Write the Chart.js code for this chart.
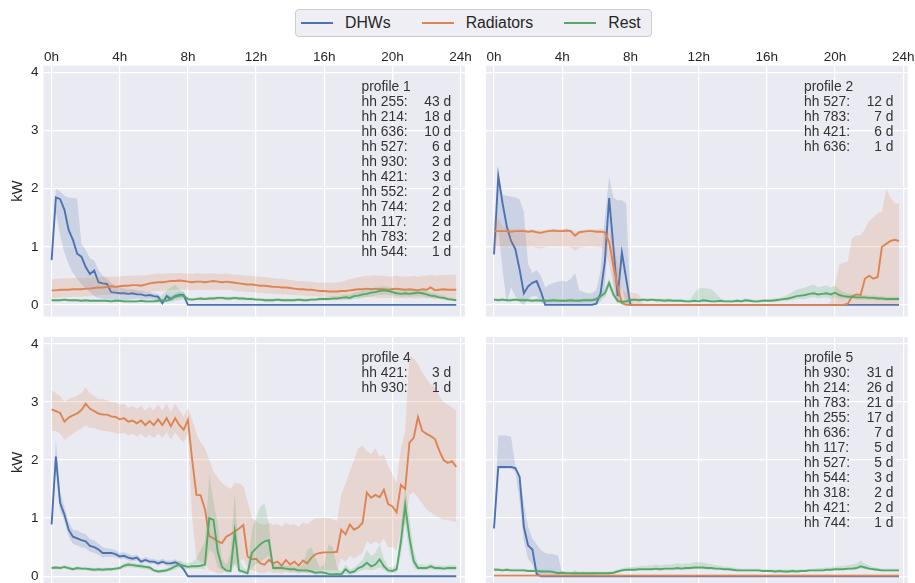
<!DOCTYPE html>
<html>
<head>
<meta charset="utf-8">
<script src="https://cdn.jsdelivr.net/npm/chart.js@4.4.0/dist/chart.umd.min.js"></script>
<style>
  html, body { margin: 0; padding: 0; background: #fff; }
  body { position: relative; width: 915px; height: 583px; overflow: hidden; font-family: "Liberation Sans", Arial, sans-serif; }
  canvas { position: absolute; }
  #legend {
    position: absolute; left: 295px; top: 9px; height: 28px; box-sizing: border-box;
    padding: 0 10px 0 5px; display: flex; align-items: center;
    border: 1px solid #cccccc; border-radius: 4px; background: #eeeef4;
    font-size: 15.8px; color: #262626;
  }
  .item { display: flex; align-items: center; margin-right: 31px; }
  .item:last-child { margin-right: 0; }
  .swatch { width: 32px; height: 0; border-top: 2px solid; margin-right: 12px; }
</style>
</head>
<body>
<div id="legend"></div>
<canvas id="p1" width="478" height="285" style="left:0;top:40px"></canvas>
<canvas id="p2" width="445" height="285" style="left:470px;top:40px"></canvas>
<canvas id="p4" width="478" height="280" style="left:0;top:320px"></canvas>
<canvas id="p5" width="445" height="280" style="left:470px;top:320px"></canvas>
<script>
const hours = [0,0.25,0.5,0.75,1,1.25,1.5,1.75,2,2.25,2.5,2.75,3,3.25,3.5,3.75,4,4.25,4.5,4.75,5,5.25,5.5,5.75,
  6,6.25,6.5,6.75,7,7.25,7.5,7.75,8,8.25,8.5,8.75,9,9.25,9.5,9.75,10,10.25,10.5,10.75,11,11.25,11.5,11.75,
  12,12.25,12.5,12.75,13,13.25,13.5,13.75,14,14.25,14.5,14.75,15,15.25,15.5,15.75,16,16.25,16.5,16.75,17,17.25,17.5,17.75,
  18,18.25,18.5,18.75,19,19.25,19.5,19.75,20,20.25,20.5,20.75,21,21.25,21.5,21.75,22,22.25,22.5,22.75,23,23.25,23.5,23.75];
const hourTicks = [0, 4, 8, 12, 16, 20, 24];
const hourTickLabels = ['0h', '4h', '8h', '12h', '16h', '20h', '24h'];
const kwTicks = [0, 1, 2, 3, 4];
const seriesNames = ['DHWs', 'Radiators', 'Rest'];

// profile 1
const p1Dhw = [
  0.77,1.85,1.82,1.64,1.29,1.12,0.88,0.83, 0.65,0.53,0.59,0.39,0.37,0.36,0.22,0.21,
  0.20,0.20,0.19,0.20,0.18,0.18,0.16,0.17, 0.15,0.14,0.03,0.15,0.10,0.15,0.17,0.17,
  0,0,0,0,0,0,0,0, 0,0,0,0,0,0,0,0, 0,0,0,0,0,0,0,0, 0,0,0,0,0,0,0,0,
  0,0,0,0,0,0,0,0, 0,0,0,0,0,0,0,0, 0,0,0,0,0,0,0,0, 0,0,0,0,0,0,0,0];
const p1DhwLo = [
  0.72,1.6,1.2,0.9,0.7,0.55,0.45,0.35, 0.28,0.22,0.15,0.12,0.1,0.1,0.08,0.08,
  0.08,0.08,0.09,0.1,0.1,0.1,0.09,0.1, 0.09,0.09,0,0.1,0.06,0.1,0.12,0.12,
  0,0,0,0,0,0,0,0, 0,0,0,0,0,0,0,0, 0,0,0,0,0,0,0,0, 0,0,0,0,0,0,0,0,
  0,0,0,0,0,0,0,0, 0,0,0,0,0,0,0,0, 0,0,0,0,0,0,0,0, 0,0,0,0,0,0,0,0];
const p1DhwHi = [
  0.82,2.0,1.95,1.88,1.85,1.84,1.83,1.05, 0.95,0.8,0.77,0.6,0.5,0.45,0.38,0.33,
  0.3,0.28,0.27,0.27,0.25,0.24,0.22,0.22, 0.2,0.19,0.08,0.2,0.15,0.2,0.22,0.22,
  0,0,0,0,0,0,0,0, 0,0,0,0,0,0,0,0, 0,0,0,0,0,0,0,0, 0,0,0,0,0,0,0,0,
  0,0,0,0,0,0,0,0, 0,0,0,0,0,0,0,0, 0,0,0,0,0,0,0,0, 0,0,0,0,0,0,0,0];
const p1Rad = [
  0.25,0.25,0.26,0.26,0.26,0.27,0.27,0.27, 0.28,0.28,0.29,0.3,0.3,0.31,0.32,0.31,
  0.32,0.33,0.33,0.34,0.34,0.33,0.35,0.37, 0.38,0.39,0.39,0.4,0.41,0.41,0.42,0.41,
  0.4,0.39,0.4,0.4,0.39,0.4,0.41,0.4, 0.39,0.4,0.39,0.38,0.37,0.36,0.35,0.35,
  0.34,0.33,0.33,0.32,0.31,0.31,0.3,0.3, 0.29,0.28,0.27,0.27,0.26,0.26,0.25,0.24,
  0.24,0.23,0.23,0.23,0.24,0.24,0.25,0.26, 0.27,0.27,0.28,0.27,0.28,0.27,0.27,0.26,
  0.27,0.28,0.27,0.26,0.27,0.26,0.25,0.27, 0.26,0.3,0.25,0.26,0.27,0.26,0.26,0.26];
const p1RadLo = [
  0.12,0.12,0.13,0.13,0.13,0.14,0.14,0.14, 0.15,0.15,0.16,0.16,0.17,0.17,0.18,0.18,
  0.18,0.19,0.19,0.2,0.2,0.2,0.21,0.22, 0.23,0.24,0.24,0.25,0.26,0.26,0.27,0.26,
  0.26,0.25,0.26,0.26,0.25,0.26,0.26,0.26, 0.25,0.26,0.25,0.24,0.23,0.23,0.22,0.22,
  0.21,0.2,0.2,0.19,0.19,0.18,0.18,0.18, 0.17,0.17,0.16,0.16,0.15,0.15,0.15,0.14,
  0.14,0.13,0.13,0.13,0.14,0.14,0.14,0.14, 0.14,0.13,0.14,0.13,0.13,0.12,0.12,0.12,
  0.12,0.12,0.12,0.11,0.12,0.11,0.11,0.12, 0.11,0.12,0.1,0.11,0.11,0.1,0.1,0.1];
const p1RadHi = [
  0.44,0.45,0.45,0.46,0.46,0.46,0.47,0.46, 0.46,0.47,0.47,0.48,0.48,0.49,0.49,0.48,
  0.49,0.5,0.5,0.5,0.51,0.5,0.51,0.52, 0.53,0.54,0.53,0.54,0.55,0.54,0.55,0.54,
  0.54,0.53,0.55,0.54,0.53,0.54,0.55,0.53, 0.53,0.54,0.53,0.52,0.52,0.51,0.5,0.5,
  0.49,0.48,0.48,0.47,0.46,0.45,0.45,0.44, 0.43,0.42,0.41,0.41,0.4,0.4,0.39,0.38,
  0.38,0.38,0.38,0.39,0.4,0.42,0.44,0.46, 0.48,0.49,0.5,0.5,0.51,0.5,0.5,0.49,
  0.49,0.5,0.49,0.48,0.49,0.5,0.48,0.5, 0.5,0.52,0.5,0.51,0.52,0.52,0.52,0.52];
const p1Rest = [
  0.08,0.08,0.08,0.09,0.08,0.08,0.08,0.07, 0.08,0.07,0.07,0.07,0.07,0.07,0.06,0.07,
  0.07,0.06,0.06,0.06,0.06,0.07,0.06,0.06, 0.06,0.07,0.08,0.07,0.1,0.14,0.16,0.16,
  0.1,0.09,0.1,0.11,0.1,0.11,0.11,0.12, 0.12,0.11,0.11,0.12,0.11,0.11,0.1,0.1,
  0.09,0.09,0.08,0.08,0.08,0.09,0.08,0.08, 0.08,0.08,0.09,0.08,0.08,0.09,0.09,0.1,
  0.1,0.1,0.11,0.11,0.12,0.13,0.12,0.15, 0.16,0.18,0.19,0.21,0.22,0.24,0.25,0.24,
  0.22,0.2,0.19,0.2,0.19,0.2,0.21,0.2, 0.18,0.16,0.15,0.13,0.12,0.1,0.09,0.08];
const p1RestLo = [
  0.06,0.06,0.06,0.07,0.06,0.06,0.06,0.05, 0.06,0.05,0.05,0.05,0.05,0.05,0.04,0.05,
  0.05,0.04,0.04,0.04,0.04,0.05,0.04,0.04, 0.04,0.04,0.05,0.04,0.05,0.07,0.08,0.1,
  0.07,0.07,0.08,0.08,0.08,0.08,0.08,0.09, 0.09,0.08,0.08,0.09,0.08,0.08,0.08,0.08,
  0.07,0.07,0.06,0.06,0.06,0.07,0.06,0.06, 0.06,0.06,0.07,0.06,0.06,0.07,0.07,0.07,
  0.07,0.07,0.08,0.08,0.08,0.09,0.08,0.1, 0.1,0.12,0.13,0.15,0.16,0.17,0.18,0.17,
  0.16,0.15,0.14,0.15,0.14,0.15,0.15,0.15, 0.13,0.12,0.11,0.1,0.09,0.07,0.07,0.06];
const p1RestHi = [
  0.1,0.1,0.1,0.11,0.1,0.1,0.1,0.09, 0.1,0.09,0.09,0.09,0.09,0.09,0.08,0.09,
  0.09,0.08,0.08,0.08,0.08,0.09,0.08,0.08, 0.09,0.12,0.18,0.25,0.3,0.35,0.27,0.22,
  0.13,0.12,0.13,0.14,0.13,0.14,0.14,0.15, 0.15,0.14,0.14,0.15,0.14,0.14,0.13,0.13,
  0.12,0.12,0.11,0.11,0.11,0.12,0.11,0.11, 0.11,0.11,0.12,0.11,0.11,0.12,0.12,0.13,
  0.13,0.14,0.15,0.15,0.16,0.18,0.17,0.21, 0.22,0.25,0.26,0.28,0.29,0.31,0.32,0.31,
  0.29,0.27,0.25,0.26,0.25,0.26,0.27,0.26, 0.24,0.21,0.2,0.17,0.16,0.13,0.12,0.1];

// profile 2
const p2Dhw = [
  0.87,2.22,1.75,1.35,1.1,0.96,0.61,0.2, 0.32,0.38,0.41,0.23,0,0,0,0,
  0,0,0,0,0,0,0,0, 0.02,0.2,0.75,1.84,1.0,0.15,0.9,0.45,
  0,0,0,0,0,0,0,0, 0,0,0,0,0,0,0,0, 0,0,0,0,0,0,0,0, 0,0,0,0,0,0,0,0,
  0,0,0,0,0,0,0,0, 0,0,0,0,0,0,0,0, 0,0,0,0,0,0,0,0, 0,0,0,0,0,0,0,0];
const p2DhwLo = [
  0.84,1.3,0.6,0.05,0.3,0.15,0.05,0, 0.1,0.15,0.15,0.05,0,0,0,0,
  0,0,0,0,0,0,0,0, 0,0.05,0.3,1.3,0.4,0,0.3,0,
  0,0,0,0,0,0,0,0, 0,0,0,0,0,0,0,0, 0,0,0,0,0,0,0,0, 0,0,0,0,0,0,0,0,
  0,0,0,0,0,0,0,0, 0,0,0,0,0,0,0,0, 0,0,0,0,0,0,0,0, 0,0,0,0,0,0,0,0];
const p2DhwHi = [
  0.9,2.25,1.9,1.88,1.86,1.85,1.82,1.6, 0.7,0.55,0.6,0.5,0.3,0.35,0.38,0.4,
  0.42,0.4,0.45,0.55,0.25,0.22,0.2,0.2, 0.25,0.6,1.5,2.2,1.85,1.8,1.8,1.75,
  0.05,0,0,0,0,0,0,0, 0,0,0,0,0,0,0,0, 0,0,0,0,0,0,0,0, 0,0,0,0,0,0,0,0,
  0,0,0,0,0,0,0,0, 0,0,0,0,0,0,0,0, 0,0,0,0,0,0,0,0, 0,0,0,0,0,0,0,0];
const p2Rad = [
  1.27,1.27,1.27,1.27,1.26,1.27,1.27,1.27, 1.26,1.27,1.25,1.24,1.26,1.27,1.28,1.27,
  1.27,1.28,1.27,1.19,1.25,1.26,1.27,1.27, 1.26,1.26,1.25,1.08,0.67,0.32,0.03,0,
  0,0,0,0,0,0,0,0, 0,0,0,0,0,0,0,0, 0,0,0,0,0,0,0,0, 0,0,0,0,0,0,0,0,
  0,0,0,0,0,0,0,0, 0,0,0,0,0,0,0,0, 0,0,0,0.02,0.15,0.18,0.17,0.45, 0.5,0.45,0.48,1.0,1.05,1.1,1.12,1.1];
const p2RadLo = [
  1.0,1.0,1.0,1.0,1.0,1.0,1.0,1.0, 0.99,1.0,0.98,0.97,0.99,1.0,1.0,1.0,
  1.0,1.0,0.99,0.93,0.98,0.99,1.0,1.0, 0.99,0.99,0.95,0.7,0.3,0.05,0,0,
  0,0,0,0,0,0,0,0, 0,0,0,0,0,0,0,0, 0,0,0,0,0,0,0,0, 0,0,0,0,0,0,0,0,
  0,0,0,0,0,0,0,0, 0,0,0,0,0,0,0,0, 0,0,0,0,0,0,0,0, 0,0,0,0,0,0,0,0];
const p2RadHi = [
  1.5,1.48,1.35,1.32,1.3,1.3,1.31,1.3, 1.29,1.3,1.28,1.28,1.29,1.3,1.31,1.3,
  1.3,1.31,1.3,1.25,1.28,1.29,1.3,1.3, 1.3,1.3,1.3,1.25,1.1,0.7,0.25,0.22,
  0.22,0.2,0.18,0,0,0,0,0, 0,0,0,0,0,0,0,0, 0,0,0,0,0,0,0,0, 0,0,0,0,0,0,0,0,
  0,0,0,0,0,0,0,0, 0,0,0,0,0,0,0,0.05, 0.35,0.7,0.72,0.75,1.15,1.2,1.2,1.3, 1.45,1.5,1.58,1.6,2.0,1.85,1.75,1.75];
const p2Rest = [
  0.09,0.08,0.09,0.08,0.08,0.09,0.08,0.08, 0.08,0.07,0.08,0.07,0.07,0.07,0.08,0.07,
  0.07,0.07,0.08,0.07,0.07,0.08,0.08,0.08, 0.1,0.15,0.2,0.38,0.18,0.07,0.05,0.06,
  0.08,0.09,0.08,0.09,0.08,0.09,0.08,0.08, 0.07,0.08,0.07,0.07,0.07,0.06,0.06,0.07,
  0.06,0.08,0.07,0.06,0.06,0.07,0.06,0.06, 0.06,0.07,0.06,0.08,0.07,0.06,0.06,0.07,
  0.07,0.07,0.08,0.09,0.1,0.11,0.13,0.15, 0.16,0.17,0.19,0.2,0.18,0.19,0.2,0.18,
  0.21,0.17,0.15,0.14,0.14,0.13,0.13,0.13, 0.12,0.12,0.11,0.11,0.1,0.1,0.1,0.1];
const p2RestLo = [
  0.07,0.06,0.07,0.06,0.06,0.07,0.06,0.06, 0.06,0.05,0.06,0.05,0.05,0.05,0.06,0.05,
  0.05,0.05,0.06,0.05,0.05,0.06,0.06,0.06, 0.07,0.1,0.12,0.3,0.12,0.04,0.03,0.04,
  0.06,0.07,0.06,0.07,0.06,0.07,0.06,0.06, 0.05,0.06,0.05,0.05,0.05,0.04,0.04,0.05,
  0.04,0.05,0.05,0.04,0.04,0.05,0.04,0.04, 0.04,0.05,0.04,0.06,0.05,0.04,0.04,0.05,
  0.05,0.05,0.05,0.06,0.07,0.07,0.08,0.1, 0.1,0.1,0.12,0.13,0.11,0.12,0.13,0.1,
  0.13,0.11,0.1,0.1,0.1,0.09,0.09,0.09, 0.09,0.09,0.08,0.08,0.07,0.07,0.07,0.07];
const p2RestHi = [
  0.12,0.11,0.12,0.11,0.11,0.12,0.11,0.11, 0.11,0.1,0.11,0.1,0.1,0.1,0.11,0.1,
  0.1,0.1,0.11,0.1,0.1,0.11,0.11,0.11, 0.14,0.2,0.28,0.46,0.26,0.1,0.08,0.09,
  0.11,0.12,0.11,0.12,0.11,0.12,0.11,0.11, 0.1,0.11,0.1,0.1,0.1,0.09,0.09,0.2,
  0.28,0.29,0.28,0.27,0.2,0.12,0.09,0.09, 0.09,0.1,0.09,0.11,0.1,0.09,0.09,0.1,
  0.1,0.1,0.11,0.12,0.15,0.18,0.22,0.26, 0.28,0.3,0.33,0.35,0.3,0.32,0.34,0.3,
  0.33,0.27,0.22,0.2,0.18,0.17,0.17,0.17, 0.16,0.16,0.15,0.15,0.14,0.14,0.14,0.14];

// profile 4
const p4Dhw = [
  0.89,2.06,1.26,1.06,0.8,0.68,0.65,0.62, 0.6,0.52,0.5,0.46,0.4,0.4,0.4,0.38,
  0.34,0.35,0.32,0.3,0.32,0.25,0.28,0.25, 0.25,0.22,0.25,0.22,0.22,0.24,0.2,0.12,
  0,0,0,0,0,0,0,0, 0,0,0,0,0,0,0,0, 0,0,0,0,0,0,0,0, 0,0,0,0,0,0,0,0,
  0,0,0,0,0,0,0,0, 0,0,0,0,0,0,0,0, 0,0,0,0,0,0,0,0, 0,0,0,0,0,0,0,0];
const p4DhwLo = [
  0.85,1.8,1.12,0.95,0.68,0.56,0.53,0.5, 0.48,0.42,0.4,0.37,0.32,0.33,0.33,0.32,
  0.29,0.3,0.27,0.26,0.27,0.21,0.24,0.21, 0.21,0.18,0.21,0.18,0.18,0.2,0.16,0.08,
  0,0,0,0,0,0,0,0, 0,0,0,0,0,0,0,0, 0,0,0,0,0,0,0,0, 0,0,0,0,0,0,0,0,
  0,0,0,0,0,0,0,0, 0,0,0,0,0,0,0,0, 0,0,0,0,0,0,0,0, 0,0,0,0,0,0,0,0];
const p4DhwHi = [
  0.93,2.35,1.45,1.2,0.93,0.8,0.78,0.75, 0.72,0.64,0.62,0.56,0.5,0.48,0.47,0.45,
  0.4,0.41,0.38,0.35,0.37,0.3,0.33,0.3, 0.3,0.27,0.3,0.27,0.27,0.29,0.25,0.17,
  0,0,0,0,0,0,0,0, 0,0,0,0,0,0,0,0, 0,0,0,0,0,0,0,0, 0,0,0,0,0,0,0,0,
  0,0,0,0,0,0,0,0, 0,0,0,0,0,0,0,0, 0,0,0,0,0,0,0,0, 0,0,0,0,0,0,0,0];
const p4Rad = [
  2.87,2.84,2.81,2.66,2.73,2.77,2.8,2.86, 2.97,2.88,2.84,2.8,2.78,2.78,2.75,2.74,
  2.7,2.72,2.66,2.68,2.63,2.68,2.6,2.67, 2.6,2.7,2.6,2.72,2.58,2.72,2.6,2.52,
  2.69,2.0,1.4,1.39,1.15,0.69,0.65,0.6, 0.57,0.68,0.72,0.77,0.82,0.88,0.34,0.29,
  0.3,0.22,0.2,0.28,0.22,0.25,0.18,0.28, 0.2,0.25,0.18,0.27,0.22,0.32,0.38,0.4,
  0.41,0.41,0.41,0.42,0.8,0.72,0.89,0.8, 0.84,0.92,1.44,1.35,1.4,1.36,1.49,1.24,
  1.2,1.1,1.57,1.5,2.3,2.38,2.74,2.5, 2.45,2.41,2.36,2.16,2.0,1.95,1.98,1.88];
const p4RadLo = [
  2.5,2.5,2.45,2.35,2.4,2.45,2.5,2.55, 2.6,2.55,2.55,2.52,2.5,2.5,2.48,2.47,
  2.45,2.47,2.42,2.45,2.4,2.45,2.38,2.44, 2.38,2.46,2.38,2.48,2.35,2.48,2.38,2.3,
  2.45,1.0,0.3,0.25,0.2,0.1,0.08,0.05, 0.05,0.1,0.15,0.2,0.25,0.3,0.15,0.1,
  0.08,0.05,0.05,0.08,0.05,0.06,0.04,0.08, 0.05,0.06,0.04,0.07,0.05,0.08,0.1,0.1,
  0.1,0.1,0.1,0.1,0.3,0.25,0.35,0.3, 0.35,0.4,0.6,0.55,0.6,0.55,0.65,0.5,
  0.5,0.45,0.85,0.9,1.4,1.45,1.35,1.25, 1.15,1.1,1.05,1.0,0.97,0.97,0.95,0.93];
const p4RadHi = [
  3.2,3.15,3.1,3.0,3.05,3.08,3.1,3.15, 3.25,3.15,3.1,3.05,3.05,3.03,3.0,3.0,
  2.95,2.97,2.9,2.93,2.88,2.93,2.85,2.92, 2.85,2.95,2.85,2.97,2.83,2.97,2.85,2.75,
  2.9,2.7,2.45,2.3,2.2,2.0,1.8,1.7, 1.6,1.55,1.5,1.6,1.6,1.55,1.3,1.0,
  0.95,0.9,0.88,0.92,0.88,0.9,0.85,0.92, 0.88,0.9,0.85,0.92,0.9,0.95,1.0,1.0,
  1.0,1.0,0.98,0.95,1.4,1.6,1.8,2.0, 2.2,2.25,2.15,2.1,2.2,2.05,2.1,1.9,
  1.75,1.6,2.2,2.5,3.8,3.75,3.65,3.5, 3.4,3.3,3.25,3.1,3.0,2.95,2.9,2.85];
const p4Rest = [
  0.14,0.15,0.14,0.16,0.14,0.12,0.14,0.13, 0.13,0.12,0.11,0.12,0.11,0.12,0.12,0.13,
  0.14,0.18,0.2,0.19,0.18,0.17,0.16,0.15, 0.1,0.08,0.09,0.1,0.13,0.17,0.2,0.18,
  0.16,0.17,0.17,0.18,0.2,1.0,0.97,0.42, 0.16,0.1,0.09,0.77,0.1,0.08,0.05,0.4,
  0.48,0.55,0.6,0.62,0.14,0.14,0.14,0.13, 0.12,0.12,0.1,0.1,0.1,0.08,0.06,0.07,
  0.06,0.04,0.03,0.04,0.03,0.12,0.06,0.08, 0.14,0.17,0.23,0.17,0.2,0.29,0.17,0.1,
  0.09,0.12,0.6,1.22,0.66,0.26,0.14,0.14, 0.14,0.17,0.14,0.14,0.13,0.14,0.14,0.14];
const p4RestLo = [
  0.11,0.12,0.11,0.13,0.11,0.09,0.11,0.1, 0.1,0.09,0.08,0.09,0.08,0.09,0.09,0.1,
  0.11,0.14,0.16,0.15,0.14,0.13,0.12,0.11, 0.07,0.05,0.06,0.07,0.09,0.12,0.15,0.13,
  0.12,0.13,0.13,0.13,0.12,0.45,0.4,0.15, 0.1,0.06,0.05,0.2,0.06,0.05,0.02,0.15,
  0.2,0.25,0.3,0.35,0.1,0.1,0.1,0.09, 0.08,0.08,0.06,0.06,0.06,0.04,0.02,0.03,
  0.02,0,0,0,0,0.05,0.02,0.04, 0.08,0.1,0.12,0.1,0.12,0.15,0.1,0.06,
  0.05,0.07,0.35,0.9,0.4,0.15,0.1,0.1, 0.1,0.12,0.1,0.1,0.1,0.1,0.1,0.1];
const p4RestHi = [
  0.17,0.18,0.17,0.19,0.17,0.15,0.17,0.16, 0.16,0.15,0.14,0.15,0.14,0.15,0.15,0.16,
  0.17,0.22,0.24,0.23,0.22,0.21,0.2,0.19, 0.13,0.11,0.12,0.14,0.18,0.23,0.27,0.24,
  0.22,0.24,0.3,0.45,0.6,1.75,1.3,0.9, 0.3,0.2,0.4,1.45,0.3,0.15,0.1,0.8,
  1.0,1.2,1.25,0.9,0.2,0.19,0.19,0.18, 0.17,0.17,0.15,0.2,0.45,0.5,0.3,0.15,
  0.2,0.55,0.5,0.15,0.08,0.2,0.12,0.14, 0.22,0.28,0.45,0.35,0.4,0.55,0.3,0.16,
  0.15,0.2,0.9,1.55,1.0,0.45,0.2,0.2, 0.19,0.22,0.19,0.19,0.18,0.19,0.19,0.19];

// profile 5
const p5Dhw = [
  0.82,1.88,1.88,1.88,1.88,1.86,1.71,0.85, 0.53,0.46,0.04,0,0,0,0,0,
  0,0,0,0,0,0,0,0, 0,0,0,0,0,0,0,0,
  0,0,0,0,0,0,0,0, 0,0,0,0,0,0,0,0, 0,0,0,0,0,0,0,0, 0,0,0,0,0,0,0,0,
  0,0,0,0,0,0,0,0, 0,0,0,0,0,0,0,0, 0,0,0,0,0,0,0,0, 0,0,0,0,0,0,0,0];
const p5DhwLo = [
  0.8,1.85,1.85,1.85,1.85,1.8,1.3,0.6, 0.3,0.2,0,0,0,0,0,0,
  0,0,0,0,0,0,0,0, 0,0,0,0,0,0,0,0,
  0,0,0,0,0,0,0,0, 0,0,0,0,0,0,0,0, 0,0,0,0,0,0,0,0, 0,0,0,0,0,0,0,0,
  0,0,0,0,0,0,0,0, 0,0,0,0,0,0,0,0, 0,0,0,0,0,0,0,0, 0,0,0,0,0,0,0,0];
const p5DhwHi = [
  0.85,2.42,2.42,2.42,2.4,1.9,1.75,1.25, 0.85,0.65,0.55,0.45,0.4,0.38,0.38,0.35,
  0.05,0.02,0.02,0.1,0.03,0.08,0.03,0.06, 0,0,0,0,0,0,0,0,
  0,0,0,0,0,0,0,0, 0,0,0,0,0,0,0,0, 0,0,0,0,0,0,0,0, 0,0,0,0,0,0,0,0,
  0,0,0,0,0,0,0,0, 0,0,0,0,0,0,0,0, 0,0,0,0,0,0,0,0, 0,0,0,0,0,0,0,0];
const p5Rad = [
  0.01,0.01,0.01,0.01,0.01,0.01,0.01,0.01, 0.01,0.01,0.01,0.01,0.01,0.01,0.01,0.01,
  0.01,0.01,0.01,0.01,0.01,0.01,0.01,0.01, 0.01,0.01,0.01,0.01,0.01,0.01,0.01,0.01,
  0.01,0.01,0.01,0.01,0.01,0.01,0.01,0.01, 0.01,0.01,0.01,0.01,0.01,0.01,0.01,0.01,
  0.01,0.01,0.01,0.01,0.01,0.01,0.01,0.01, 0.01,0.01,0.01,0.01,0.01,0.01,0.01,0.01,
  0.01,0.01,0.01,0.01,0.01,0.01,0.01,0.01, 0.01,0.01,0.01,0.01,0.01,0.01,0.01,0.01,
  0.01,0.01,0.01,0.01,0.01,0.01,0.01,0.01, 0.01,0.01,0.01,0.01,0.01,0.01,0.01,0.01];
const p5RadLo = [
  0,0,0,0,0,0,0,0, 0,0,0,0,0,0,0,0, 0,0,0,0,0,0,0,0, 0,0,0,0,0,0,0,0,
  0,0,0,0,0,0,0,0, 0,0,0,0,0,0,0,0, 0,0,0,0,0,0,0,0, 0,0,0,0,0,0,0,0,
  0,0,0,0,0,0,0,0, 0,0,0,0,0,0,0,0, 0,0,0,0,0,0,0,0, 0,0,0,0,0,0,0,0];
const p5RadHi = [
  0.03,0.03,0.03,0.03,0.03,0.03,0.03,0.03, 0.03,0.03,0.03,0.03,0.03,0.03,0.03,0.03,
  0.03,0.03,0.03,0.03,0.03,0.03,0.03,0.03, 0.03,0.03,0.03,0.03,0.03,0.03,0.03,0.03,
  0.03,0.03,0.03,0.03,0.03,0.03,0.03,0.03, 0.03,0.03,0.03,0.03,0.03,0.03,0.03,0.03,
  0.03,0.03,0.03,0.03,0.03,0.03,0.03,0.03, 0.03,0.03,0.03,0.03,0.03,0.03,0.03,0.03,
  0.03,0.03,0.03,0.03,0.03,0.03,0.03,0.03, 0.03,0.03,0.03,0.03,0.03,0.03,0.03,0.03,
  0.03,0.03,0.03,0.03,0.03,0.03,0.03,0.03, 0.03,0.03,0.03,0.03,0.03,0.03,0.03,0.03];
const p5Rest = [
  0.11,0.11,0.1,0.11,0.1,0.1,0.1,0.1, 0.09,0.09,0.09,0.08,0.08,0.08,0.07,0.05,
  0.06,0.05,0.05,0.05,0.05,0.05,0.05,0.05, 0.05,0.05,0.05,0.05,0.06,0.08,0.1,0.11,
  0.11,0.11,0.12,0.12,0.12,0.12,0.13,0.12, 0.13,0.13,0.13,0.14,0.13,0.14,0.14,0.15,
  0.15,0.15,0.14,0.14,0.13,0.13,0.12,0.12, 0.11,0.1,0.1,0.1,0.1,0.1,0.1,0.09,
  0.09,0.09,0.08,0.09,0.08,0.08,0.09,0.08, 0.09,0.09,0.1,0.1,0.1,0.1,0.11,0.11,
  0.12,0.12,0.12,0.13,0.13,0.14,0.17,0.15, 0.13,0.12,0.11,0.1,0.1,0.1,0.1,0.1];
const p5RestLo = [
  0.09,0.09,0.08,0.09,0.08,0.08,0.08,0.08, 0.07,0.07,0.07,0.06,0.06,0.06,0.05,0.03,
  0.04,0.03,0.03,0.03,0.03,0.03,0.03,0.03, 0.03,0.03,0.03,0.03,0.04,0.06,0.08,0.09,
  0.09,0.09,0.1,0.1,0.1,0.1,0.1,0.09, 0.1,0.1,0.1,0.11,0.1,0.11,0.11,0.12,
  0.12,0.12,0.11,0.11,0.1,0.1,0.1,0.1, 0.09,0.08,0.08,0.08,0.08,0.08,0.08,0.07,
  0.07,0.07,0.06,0.07,0.06,0.06,0.07,0.06, 0.07,0.07,0.08,0.08,0.08,0.08,0.09,0.09,
  0.1,0.1,0.1,0.1,0.1,0.11,0.13,0.12, 0.11,0.1,0.09,0.08,0.08,0.08,0.08,0.08];
const p5RestHi = [
  0.14,0.14,0.13,0.14,0.13,0.13,0.13,0.13, 0.12,0.12,0.12,0.11,0.11,0.11,0.1,0.08,
  0.09,0.08,0.08,0.08,0.08,0.08,0.08,0.08, 0.08,0.08,0.08,0.08,0.09,0.11,0.14,0.15,
  0.16,0.16,0.17,0.18,0.18,0.19,0.2,0.19, 0.2,0.2,0.21,0.22,0.21,0.22,0.22,0.24,
  0.25,0.24,0.22,0.21,0.19,0.18,0.17,0.16, 0.15,0.14,0.13,0.13,0.13,0.13,0.13,0.12,
  0.12,0.12,0.11,0.12,0.11,0.11,0.12,0.11, 0.12,0.12,0.13,0.13,0.14,0.14,0.15,0.15,
  0.17,0.17,0.18,0.19,0.2,0.22,0.27,0.22, 0.18,0.16,0.14,0.13,0.13,0.13,0.13,0.13];

// households and days per profile
const profile1Households = [255, 214, 636, 527, 930, 421, 552, 744, 117, 783, 544];
const profile1Days = [43, 18, 10, 6, 3, 3, 2, 2, 2, 2, 1];
const profile2Households = [527, 783, 421, 636];
const profile2Days = [12, 7, 6, 1];
const profile4Households = [421, 930];
const profile4Days = [3, 1];
const profile5Households = [930, 214, 783, 255, 636, 117, 527, 544, 318, 421, 744];
const profile5Days = [31, 26, 21, 17, 7, 5, 5, 3, 2, 2, 1];

const lineColors = ['#4C72B0', '#DD8452', '#55A868'];
const bandColors = ['rgba(76,114,176,0.2)', 'rgba(221,132,82,0.2)', 'rgba(85,168,104,0.2)'];
const FONT = '"Liberation Sans", Arial, sans-serif';

// legend
const legend = document.getElementById('legend');
seriesNames.forEach((name, k) => {
  const item = document.createElement('div');
  item.className = 'item';
  item.innerHTML = `<span class="swatch" style="border-color:${lineColors[k]}"></span><span>${name}</span>`;
  legend.appendChild(item);
});

const plotBackground = {
  id: 'plotBackground',
  beforeDraw(chart) {
    const {ctx, chartArea: a} = chart;
    ctx.save();
    ctx.fillStyle = '#EAEAF2';
    ctx.fillRect(a.left, a.top, a.right - a.left, a.bottom - a.top);
    ctx.restore();
  }
};

const profileNote = {
  id: 'profileNote',
  afterDatasetsDraw(chart, args, opts) {
    const {ctx, chartArea: a} = chart;
    const x0 = a.left + 318, x1 = a.left + 407.5;
    let y = a.top + 21.5;
    ctx.save();
    ctx.font = '13.8px ' + FONT;
    ctx.fillStyle = '#333333';
    ctx.textBaseline = 'middle';
    ctx.textAlign = 'left';
    ctx.fillText(opts.title, x0, y);
    opts.households.forEach((hh, k) => {
      y += 15;
      ctx.textAlign = 'left';
      ctx.fillText('hh ' + hh + ':', x0, y);
      ctx.textAlign = 'right';
      ctx.fillText(opts.days[k] + ' d', x1, y);
    });
    ctx.restore();
  }
};

// green on top, then orange, then blue (Chart.js draws dataset 0 last)
function bandSeries(groups) {
  const sets = [];
  [2, 1, 0].forEach(k => {
    const g = groups[k];
    const base = sets.length;
    sets.push({data: g[0], borderColor: lineColors[k], borderWidth: 1.9, pointRadius: 0, tension: 0, fill: false});
    sets.push({data: g[2], borderColor: 'rgba(0,0,0,0)', borderWidth: 0, pointRadius: 0, tension: 0,
               fill: base + 2, backgroundColor: bandColors[k]});
    sets.push({data: g[1], borderColor: 'rgba(0,0,0,0)', borderWidth: 0, pointRadius: 0, tension: 0, fill: false});
  });
  return sets;
}

function drawPanel(id, p) {
  new Chart(document.getElementById(id), {
    type: 'line',
    data: {labels: hours, datasets: bandSeries(p.groups)},
    options: {
      responsive: false,
      animation: false,
      devicePixelRatio: 1,
      events: [],
      layout: {padding: {left: 0, top: 0, right: p.padRight, bottom: p.padBottom}},
      plugins: {
        legend: {display: false},
        tooltip: {enabled: false},
        profileNote: {title: p.title, households: p.households, days: p.days}
      },
      scales: {
        x: {
          type: 'linear', position: 'top', min: -0.47, max: 24.26,
          afterBuildTicks: s => { s.ticks = hourTicks.map(v => ({value: v})); },
          afterFit: s => { s.height = p.xHeight; s.paddingLeft = 0; s.paddingRight = 0; },
          border: {display: false},
          grid: {color: '#ffffff', lineWidth: 1.2, drawTicks: false},
          ticks: {display: p.xLabels, padding: 0, color: '#262626', maxRotation: 0, autoSkip: false,
                  font: {family: FONT, size: 13.5}, callback: (v, i) => hourTickLabels[i]}
        },
        y: {
          min: -0.2, max: 4.117,
          afterBuildTicks: s => { s.ticks = kwTicks.map(v => ({value: v})); },
          afterFit: s => { s.width = p.yWidth; s.paddingTop = 0; s.paddingBottom = 0; },
          border: {display: false},
          grid: {color: '#ffffff', lineWidth: 1.2, drawTicks: false},
          ticks: {display: p.yLabels, padding: 5, color: '#262626', font: {family: FONT, size: 13.5},
                  callback: v => String(v)},
          title: {display: p.yLabels, text: 'kW', color: '#262626', padding: {top: 8.6, bottom: 0},
                  font: {family: FONT, size: 14.8}}
        }
      }
    },
    plugins: [plotBackground, profileNote]
  });
}

drawPanel('p1', {
  groups: [[p1Dhw, p1DhwLo, p1DhwHi], [p1Rad, p1RadLo, p1RadHi], [p1Rest, p1RestLo, p1RestHi]],
  title: 'profile 1', households: profile1Households, days: profile1Days,
  xLabels: true, yLabels: true, xHeight: 25.7, yWidth: 43.6, padRight: 13, padBottom: 8.5
});
drawPanel('p2', {
  groups: [[p2Dhw, p2DhwLo, p2DhwHi], [p2Rad, p2RadLo, p2RadHi], [p2Rest, p2RestLo, p2RestHi]],
  title: 'profile 2', households: profile2Households, days: profile2Days,
  xLabels: true, yLabels: false, xHeight: 25.7, yWidth: 16, padRight: 7.3, padBottom: 8.5
});
drawPanel('p4', {
  groups: [[p4Dhw, p4DhwLo, p4DhwHi], [p4Rad, p4RadLo, p4RadHi], [p4Rest, p4RestLo, p4RestHi]],
  title: 'profile 4', households: profile4Households, days: profile4Days,
  xLabels: false, yLabels: true, xHeight: 17, yWidth: 43.6, padRight: 13, padBottom: 12.2
});
drawPanel('p5', {
  groups: [[p5Dhw, p5DhwLo, p5DhwHi], [p5Rad, p5RadLo, p5RadHi], [p5Rest, p5RestLo, p5RestHi]],
  title: 'profile 5', households: profile5Households, days: profile5Days,
  xLabels: false, yLabels: false, xHeight: 17, yWidth: 16, padRight: 7.3, padBottom: 12.2
});
</script>
</body>
</html>
